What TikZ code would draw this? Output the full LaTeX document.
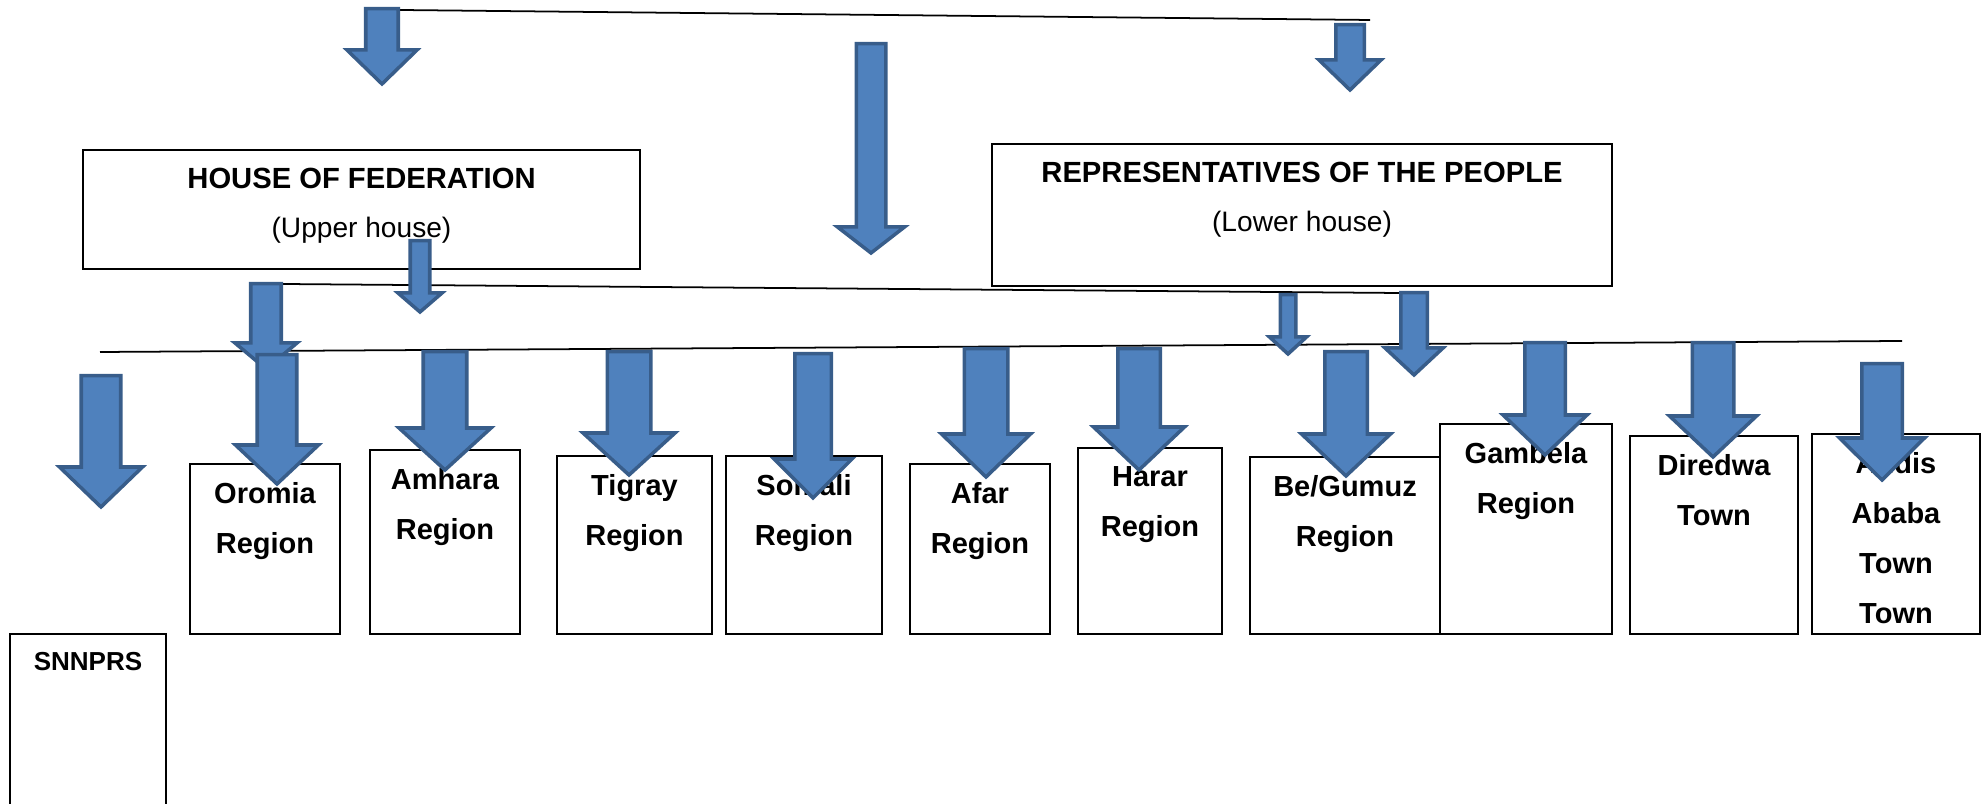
\documentclass[tikz,border=0pt]{standalone}
\usepackage{fontspec}
\setmainfont{Liberation Sans}
\usetikzlibrary{fit}
\definecolor{arrowfill}{HTML}{4F81BD}
\definecolor{arrowedge}{HTML}{385D8A}

% block arrow pointing down: centre x, shaft half width, top, head start, head half width, tip
\newcommand\blockarrow[6]{%
  \draw[blockarr] ({#1-#2+1.75},{#3+1.75}) -- ({#1+#2-1.75},{#3+1.75})
    -- ({#1+#2-1.75},#4) -- ({#1+#5-2.5},#4) -- (#1,{#6-3})
    -- ({#1-#5+2.5},#4) -- ({#1-#2+1.75},#4) -- cycle;}

\begin{document}
\begin{tikzpicture}[x=0.01cm,y=-0.01cm,
  box/.style={draw=black, line width=0.55pt, fill=white, inner sep=0pt},
  head/.style={font=\bfseries\fontsize{8.3}{10}\selectfont, inner sep=0pt, anchor=base},
  sub/.style={font=\fontsize{8}{10}\selectfont, inner sep=0pt, anchor=base},
  rtxt/.style={font=\bfseries\fontsize{8.25}{14.23}\selectfont, align=center, inner sep=0pt, anchor=north},
  stxt/.style={font=\bfseries\fontsize{7.4}{12}\selectfont, align=center, inner sep=0pt, anchor=north},
  link/.style={draw=black, line width=0.5pt},
  blockarr/.style={fill=arrowfill, draw=arrowedge, line width=1pt}]

\useasboundingbox (0,0) rectangle (1982,804);
\clip (0,0) rectangle (1982,804);

% connecting lines
\coordinate (fedtop) at (400,10);
\coordinate (reptop) at (1370,20);
\coordinate (midl) at (283,284);
\coordinate (midr) at (1399,293);
\coordinate (lowl) at (100,352);
\coordinate (lowr) at (1902,341);
\draw[link] (fedtop) -- (reptop);
\draw[link] (midl) -- (midr);
\draw[link] (lowl) -- (lowr);

% the two houses
\node[box, fit={(83,150) (640,269)}] (hof) {};
\node[head] (hof-t) at (361.5,188.5) {HOUSE OF FEDERATION};
\node[sub] (hof-s) at (361.5,238) {(Upper house)};

\node[box, fit={(992,144) (1612,286)}] (hopr) {};
\node[head] (hopr-t) at (1302,182.5) {REPRESENTATIVES OF THE PEOPLE};
\node[sub] (hopr-s) at (1302,232) {(Lower house)};

% regions and towns
\node[box, fit={(10,634) (166,830)}] (snnprs) {};
\node[box, fit={(190,464) (340,634)}] (oromia) {};
\node[box, fit={(370,450) (520,634)}] (amhara) {};
\node[box, fit={(557,456) (712,634)}] (tigray) {};
\node[box, fit={(726,456) (882,634)}] (somali) {};
\node[box, fit={(910,464) (1050,634)}] (afar) {};
\node[box, fit={(1078,448) (1222,634)}] (harar) {};
\node[box, fit={(1250,457) (1440,634)}] (begumuz) {};
\node[box, fit={(1440,424) (1612,634)}] (gambela) {};
\node[box, fit={(1630,436) (1798,634)}] (diredwa) {};
\node[box, fit={(1812,434) (1980,634)}] (addis) {};

\node[stxt] (snnprs-t) at ([yshift=-0.185cm]snnprs.north) {SNNPRS};
\node[rtxt] (oromia-t) at ([yshift=-0.185cm]oromia.north) {Oromia\\Region};
\node[rtxt] (amhara-t) at ([yshift=-0.185cm]amhara.north) {Amhara\\Region};
\node[rtxt] (tigray-t) at ([yshift=-0.185cm]tigray.north) {Tigray\\Region};
\node[rtxt] (somali-t) at ([yshift=-0.185cm]somali.north) {Somali\\Region};
\node[rtxt] (afar-t) at ([yshift=-0.185cm]afar.north) {Afar\\Region};
\node[rtxt] (harar-t) at ([yshift=-0.185cm]harar.north) {Harar\\Region};
\node[rtxt] (begumuz-t) at ([yshift=-0.185cm]begumuz.north) {Be/Gumuz\\Region};
\node[rtxt] (gambela-t) at ([yshift=-0.185cm]gambela.north) {Gambela\\Region};
\node[rtxt] (diredwa-t) at ([yshift=-0.185cm]diredwa.north) {Diredwa\\Town};
\node[rtxt] (addis-t) at ([yshift=-0.185cm]addis.north) {Addis\\Ababa\\Town\\Town};

% top arrows
\blockarrow{382}{18}{7}{50}{37.5}{87}
\blockarrow{871}{16.5}{42}{227}{36}{256}
\blockarrow{1350}{16}{23}{60}{33.5}{93}

% arrows below the houses
\blockarrow{266}{17}{282}{343}{33.5}{372}
\blockarrow{420}{11.5}{239}{293}{24.5}{315}
\blockarrow{1288}{9.5}{293}{337}{21}{357}
\blockarrow{1414}{15}{291}{348}{31.5}{378}

% arrows into the regions
\blockarrow{101}{21.5}{374}{467}{44}{510}
\blockarrow{277}{21.5}{353}{445}{44}{487}
\blockarrow{445}{23.5}{350}{428}{48.5}{473}
\blockarrow{629}{23.5}{350}{433}{48.5}{478}
\blockarrow{813}{20}{352}{459}{41.5}{501}
\blockarrow{986}{23.5}{347}{434}{47}{480}
\blockarrow{1139}{23}{347}{427}{48}{473}
\blockarrow{1346}{23}{350}{434}{47}{479}
\blockarrow{1545}{22}{341}{415}{44.5}{458}
\blockarrow{1713}{22.5}{341}{416}{46}{460}
\blockarrow{1882}{22}{362}{438}{45}{483}
\end{tikzpicture}
\end{document}
